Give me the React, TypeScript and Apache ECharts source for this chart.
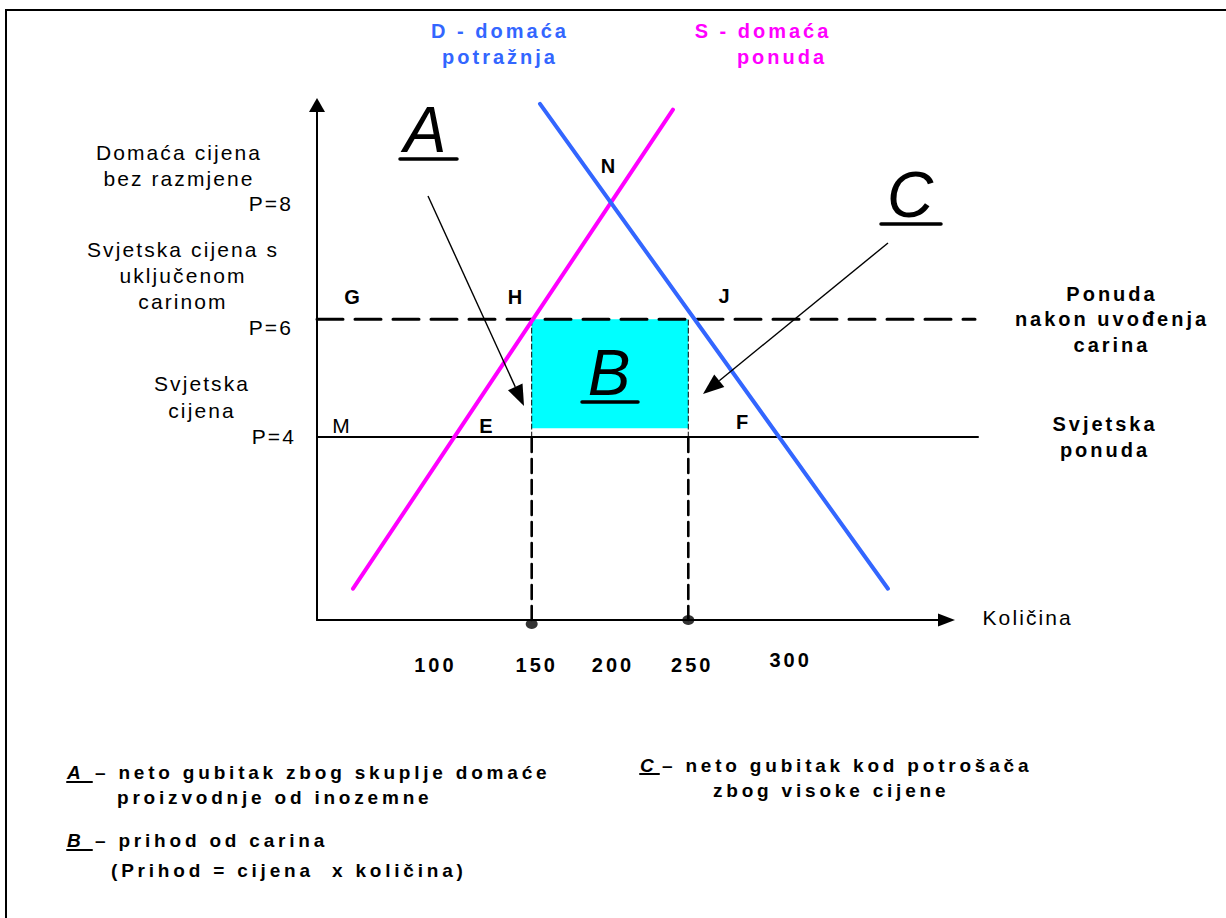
import React, { useEffect, useRef } from "react";
import * as echarts from "echarts";

// ---- data ----
const AXIS_Q = [12.9, 414.9]; // quantity axis extent (arrowed axis)
const PLOT_Q = [12.9, 435.0]; // extent of the drawing area (lines run past the arrow)
const AXIS_P = [0.9, 9.63]; // price axis extent
const SUPPLY_S = [
  [35.9, 1.43],
  [240.2, 9.55],
]; // S - domaća ponuda
const DEMAND_D = [
  [155.3, 9.65],
  [377.5, 1.43],
]; // D - domaća potražnja
const PRICE_WORLD = 4;
const PRICE_TARIFF = 6;
const PRICE_LINE_END = [433.1, 435.0]; // end of the P=6 and P=4 lines
const Q_IMPORT = [150, 250];
const B_AREA = [150, 250, 4.15, 6]; // q from, q to, p from, p to
const TICK_VALUES = [100, 150, 200, 250, 300];
const TICK_LABELS = ["100", "150", "200", "250", "300"];

// ---- styles / layout ----
const TICK_OFFSET = [
  [-18, 45],
  [5, 45],
  [3, 45],
  [4, 45],
  [24, 40],
];
const DOT_OFFSET = [
  [0, 4],
  [0, 0],
];
const BLUE = "#3366ff";
const MAGENTA = "#ff00ff";
const CYAN = "#00ffff";
const F_NONE = '"Liberation Sans", Arial, sans-serif';
const F_R = '"Liberation Sans", lsR';
const F_B = '"Liberation Sans", lsB';
const F_L = '"Liberation Sans", lsL';

const CSS = `
text[style*="lsR"], text[font-family*="lsR"] { letter-spacing: 2.1px; }
text[style*="lsB"], text[font-family*="lsB"] { letter-spacing: 3.0px; }
text[style*="lsL"], text[font-family*="lsL"] { letter-spacing: 3.8px; }
`;

type TO = {
  size: number;
  family: string;
  weight?: string;
  fstyle?: string;
  color?: string;
  align?: string;
  lh?: number;
};

function txt(text: string, x: number, y: number, o: TO) {
  const align = o.align || "center";
  return {
    type: "text",
    x,
    y,
    z: 20,
    silent: true,
    style: {
      text,
      fill: o.color || "#000",
      fontSize: o.size,
      fontFamily: o.family,
      fontWeight: o.weight || "normal",
      fontStyle: o.fstyle || "normal",
      align,
      textAlign: align,
      verticalAlign: "middle",
      textVerticalAlign: "middle",
      lineHeight: o.lh || o.size * 1.2,
    },
  };
}

function uline(x1: number, x2: number, y: number, w: number) {
  return {
    type: "line",
    z: 20,
    silent: true,
    shape: { x1, y1: y, x2, y2: y },
    style: { stroke: "#000", lineWidth: w, lineCap: "round" },
  };
}

function arrow(x1: number, y1: number, x2: number, y2: number) {
  const len = 21;
  const half = 8;
  const dx = x2 - x1;
  const dy = y2 - y1;
  const L = Math.hypot(dx, dy);
  const ux = dx / L;
  const uy = dy / L;
  const bx = x2 - ux * len;
  const by = y2 - uy * len;
  return [
    {
      type: "line",
      z: 20,
      silent: true,
      shape: { x1, y1, x2: bx, y2: by },
      style: { stroke: "#000", lineWidth: 1.4 },
    },
    {
      type: "polygon",
      z: 20,
      silent: true,
      shape: {
        points: [
          [x2, y2],
          [bx - uy * half, by + ux * half],
          [bx + uy * half, by - ux * half],
        ],
      },
      style: { fill: "#000" },
    },
  ];
}

function lineSeries(data: number[][], color: string, width: number, type: any, z = 3) {
  return {
    type: "line",
    xAxisIndex: 1,
    yAxisIndex: 1,
    data,
    symbol: "none",
    showSymbol: false,
    silent: true,
    clip: false,
    z,
    lineStyle: { color, width, type, cap: "round" },
  };
}

const hiddenAxis = (min: number, max: number, gridIndex: number) => ({
  type: "value",
  gridIndex,
  min,
  max,
  show: false,
  axisLine: { show: false },
  axisTick: { show: false },
  axisLabel: { show: false },
  splitLine: { show: false },
});

export default function App() {
  const ref = useRef<HTMLDivElement>(null);

  useEffect(() => {
    if (!ref.current) return;
    const chart = echarts.init(ref.current, undefined, { renderer: "svg" });

    const series: any[] = [];

    series.push({
      type: "custom",
      xAxisIndex: 1,
      yAxisIndex: 1,
      silent: true,
      z: 1,
      clip: false,
      encode: { x: [0, 1], y: [2, 3] },
      data: [B_AREA],
      renderItem: (_p: any, api: any) => {
        const a = api.coord([api.value(0), api.value(3)]);
        const b = api.coord([api.value(1), api.value(2)]);
        return {
          type: "rect",
          shape: { x: a[0], y: a[1], width: b[0] - a[0], height: b[1] - a[1] },
          style: { fill: CYAN },
        };
      },
    });

    Q_IMPORT.forEach((q) => {
      series.push(
        lineSeries(
          [
            [q, PRICE_WORLD],
            [q, PRICE_TARIFF],
          ],
          "#000",
          1,
          [5, 3],
          2
        )
      );
      series.push(
        lineSeries(
          [
            [q, AXIS_P[0]],
            [q, PRICE_WORLD],
          ],
          "#000",
          2.6,
          [14, 7],
          2
        )
      );
    });

    series.push(
      lineSeries(
        [
          [AXIS_Q[0], PRICE_WORLD],
          [PRICE_LINE_END[1], PRICE_WORLD],
        ],
        "#000",
        2,
        "solid"
      )
    );
    series.push(
      lineSeries(
        [
          [AXIS_Q[0], PRICE_TARIFF],
          [PRICE_LINE_END[0], PRICE_TARIFF],
        ],
        "#000",
        3,
        [26, 12]
      )
    );
    series.push(lineSeries(SUPPLY_S, MAGENTA, 4, "solid", 4));
    series.push(lineSeries(DEMAND_D, BLUE, 4, "solid", 5));

    series.push({
      type: "scatter",
      xAxisIndex: 1,
      yAxisIndex: 1,
      silent: true,
      clip: false,
      z: 6,
      symbol: "circle",
      symbolSize: [12, 10],
      itemStyle: { color: "#000" },
      data: Q_IMPORT.map((q, i) => ({ value: [q, AXIS_P[0]], symbolOffset: DOT_OFFSET[i] })),
    });

    series.push({
      type: "scatter",
      xAxisIndex: 1,
      yAxisIndex: 1,
      silent: true,
      clip: false,
      z: 6,
      symbolSize: 0.1,
      itemStyle: { color: "#ffffff", opacity: 0 },
      label: {
        show: true,
        position: "inside",
        color: "#000000",
        opacity: 1,
        textBorderWidth: 0,
        textShadowBlur: 0,
        fontSize: 20,
        fontWeight: "bold",
        fontFamily: F_B,
        formatter: (p: any) => TICK_LABELS[p.dataIndex],
      },
      data: TICK_VALUES.map((t, i) => ({
        value: [t, AXIS_P[0]],
        label: { offset: TICK_OFFSET[i] },
      })),
    });

    const graphics: any[] = [
      {
        type: "rect",
        z: 0,
        silent: true,
        shape: { x: 6, y: 10, width: 1300, height: 1000 },
        style: { fill: "none", stroke: "#000", lineWidth: 2 },
      },
      // top labels
      txt("D - domaća\npotražnja", 500, 44, { size: 20, family: F_B, weight: "bold", color: BLUE, lh: 26 }),
      txt("S - domaća", 763, 31, { size: 20, family: F_B, weight: "bold", color: MAGENTA }),
      txt("ponuda", 782, 57, { size: 20, family: F_B, weight: "bold", color: MAGENTA }),
      // left labels
      txt("Domaća cijena\nbez razmjene", 179, 165, { size: 21, family: F_R, lh: 26 }),
      txt("P=8", 293, 203, { size: 21, family: F_R, align: "right" }),
      txt("Svjetska cijena s\nuključenom\ncarinom", 183, 275, { size: 21, family: F_R, lh: 26 }),
      txt("P=6", 293, 327, { size: 21, family: F_R, align: "right" }),
      txt("Svjetska\ncijena", 202, 396.5, { size: 21, family: F_R, lh: 27 }),
      txt("P=4", 296, 436, { size: 21, family: F_R, align: "right" }),
      // right labels
      txt("Ponuda\nnakon uvođenja\ncarina", 1112, 319, { size: 20, family: F_B, weight: "bold", lh: 25.5 }),
      txt("Svjetska\nponuda", 1105, 437, { size: 20, family: F_B, weight: "bold", lh: 26 }),
      txt("Količina", 982.5, 617, { size: 21, family: F_R, align: "left" }),
      // point labels
      txt("G", 352, 297, { size: 20, family: F_NONE, weight: "bold" }),
      txt("H", 515, 297, { size: 20, family: F_NONE, weight: "bold" }),
      txt("N", 608, 166, { size: 20, family: F_NONE, weight: "bold" }),
      txt("J", 724, 296, { size: 20, family: F_NONE, weight: "bold" }),
      txt("M", 341, 425, { size: 21, family: F_NONE }),
      txt("E", 486, 426, { size: 20, family: F_NONE, weight: "bold" }),
      txt("F", 742, 422, { size: 20, family: F_NONE, weight: "bold" }),
      // big letters
      txt("A", 425, 130, { size: 64, family: F_NONE, fstyle: "italic" }),
      uline(400, 457, 159, 3.5),
      txt("B", 609, 372.5, { size: 64, family: F_NONE, fstyle: "italic" }),
      uline(582, 638, 402, 3.5),
      txt("C", 910, 194.5, { size: 64, family: F_NONE, fstyle: "italic" }),
      uline(881, 941, 224, 3.5),
      ...arrow(428, 196, 524, 406),
      ...arrow(888, 243, 703, 394),
      // legend
      txt("A", 67, 772.5, { size: 19, family: F_NONE, weight: "bold", fstyle: "italic", align: "left" }),
      uline(67, 92, 782, 2),
      txt("– neto gubitak zbog skuplje domaće", 95, 772.5, { size: 19, family: F_L, weight: "bold", align: "left" }),
      txt("proizvodnje od inozemne", 117, 797.5, { size: 19, family: F_L, weight: "bold", align: "left" }),
      txt("B", 67, 840.5, { size: 19, family: F_NONE, weight: "bold", fstyle: "italic", align: "left" }),
      uline(67, 92, 850, 2),
      txt("– prihod od carina", 95, 840.5, { size: 19, family: F_L, weight: "bold", align: "left" }),
      txt("(Prihod = cijena  x količina)", 111, 870, { size: 19, family: F_L, weight: "bold", align: "left" }),
      txt("C", 640, 765, { size: 19, family: F_NONE, weight: "bold", fstyle: "italic", align: "left" }),
      uline(640, 659, 774, 2),
      txt("– neto gubitak kod potrošača", 662, 765, { size: 19, family: F_L, weight: "bold", align: "left" }),
      txt("zbog visoke cijene", 713, 790, { size: 19, family: F_L, weight: "bold", align: "left" }),
    ];

    chart.setOption({
      animation: false,
      backgroundColor: "#ffffff",
      grid: [
        { left: 317, right: 279.5, top: 105, bottom: 298, containLabel: false },
        { left: 317, right: 248, top: 105, bottom: 298, containLabel: false },
      ],
      xAxis: [
        {
          type: "value",
          gridIndex: 0,
          min: AXIS_Q[0],
          max: AXIS_Q[1],
          axisLine: {
            show: true,
            onZero: false,
            symbol: ["none", "triangle"],
            symbolSize: [13, 17],
            lineStyle: { color: "#000", width: 2 },
          },
          axisTick: { show: false },
          axisLabel: { show: false },
          splitLine: { show: false },
        },
        hiddenAxis(PLOT_Q[0], PLOT_Q[1], 1),
      ],
      yAxis: [
        {
          type: "value",
          gridIndex: 0,
          min: AXIS_P[0],
          max: AXIS_P[1],
          axisLine: {
            show: true,
            onZero: false,
            symbol: ["none", "triangle"],
            symbolSize: [16, 14],
            lineStyle: { color: "#000", width: 2 },
          },
          axisTick: { show: false },
          axisLabel: { show: false },
          splitLine: { show: false },
        },
        hiddenAxis(AXIS_P[0], AXIS_P[1], 1),
      ],
      series,
      graphic: { elements: graphics },
    });

    return () => chart.dispose();
  }, []);

  return (
    <>
      <style>{CSS}</style>
      <div
        ref={ref}
        style={{ position: "fixed", left: 0, top: 0, width: 1226, height: 918, background: "#fff" }}
      />
    </>
  );
}
